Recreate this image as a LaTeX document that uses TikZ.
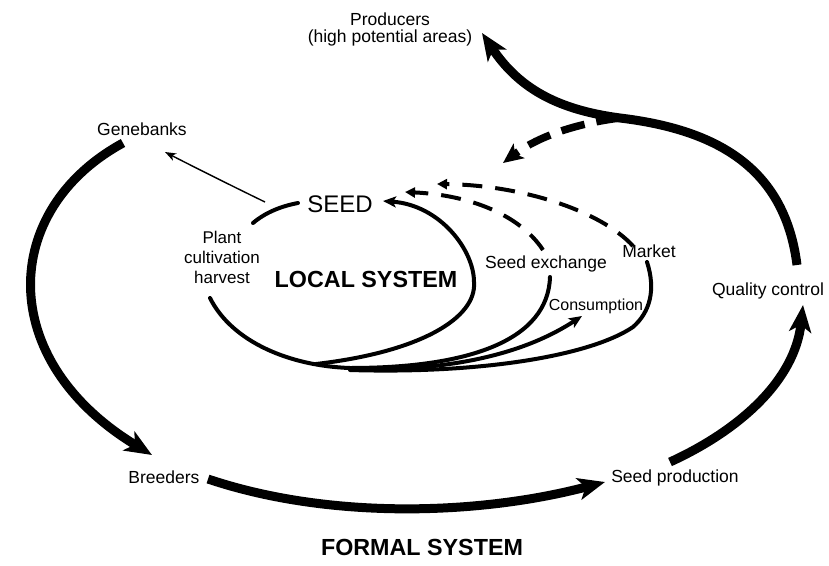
\documentclass[tikz,border=0pt]{standalone}
\usepackage{fontspec}
\setmainfont{Liberation Sans}
\usetikzlibrary{arrows.meta}

\tikzset{
  lbl/.style={anchor=base, inner sep=0pt, align=center, font=\fontsize{17.5}{17}\selectfont},
  smalllbl/.style={lbl, font=\fontsize{16}{20}\selectfont},
  plantlbl/.style={lbl, font=\fontsize{17}{20}\selectfont},
  seedlbl/.style={lbl, font=\fontsize{24}{24}\selectfont},
  syslbl/.style={lbl, font=\bfseries\fontsize{23.3}{24}\selectfont},
  bigarrow/.style={line width=9pt, -{Stealth[length=27pt,width=22pt,inset=7pt]}},
  bigdash/.style={line width=7.5pt, dash pattern=on 24pt off 12pt, -{Stealth[length=20pt,width=18pt,inset=5pt]}},
  loopline/.style={line width=4pt, line cap=round},
  looparrow/.style={loopline, -{Stealth[length=13pt,width=11pt,inset=3pt]}},
  loopdash/.style={line width=4pt, dash pattern=on 20pt off 13pt, -{Triangle[length=10pt,width=10pt]}},
  thinarrow/.style={line width=1.4pt, -{Stealth[length=11pt,width=8pt,inset=3pt]}}
}

\begin{document}
\begin{tikzpicture}[x=1pt, y=-1pt]
    \useasboundingbox (0,0) rectangle (829,565);

    %% Labels
    \node[lbl, anchor=north] (producers) at (390,13) {Producers\\(high potential areas)};
    \node[lbl] (genebanks) at (142,135) {Genebanks};
    \node[lbl] (breeders) at (164,483) {Breeders};
    \node[lbl] (seedprod) at (675,482) {Seed production};
    \node[lbl] (quality) at (768,295) {Quality control};
    \node[syslbl] (formal) at (422,555) {FORMAL SYSTEM};

    \node[seedlbl] (seed) at (340,212) {SEED};
    \node[plantlbl, anchor=north] (plant) at (222,231) {Plant\\cultivation\\harvest};
    \node[syslbl] (local) at (366,287) {LOCAL SYSTEM};
    \node[lbl] (exchange) at (546,268) {Seed exchange};
    \node[lbl] (market) at (649,257) {Market};
    \node[smalllbl] (consumption) at (596,310) {Consumption};

    %% Curve ends
    \coordinate (gb-out) at (123,143);
    \coordinate (br-in) at (152,455);
    \coordinate (br-out) at (208,479);
    \coordinate (sp-in) at (605,482);
    \coordinate (sp-out) at (670,462);
    \coordinate (qc-in) at (803,305);
    \coordinate (qc-out) at (797,265);
    \coordinate (fork) at (620,118);
    \coordinate (pr-in) at (482,33);
    \coordinate (back-in) at (503,163);
    \coordinate (seed-out) at (265,202);
    \coordinate (gb-in) at (165,152);
    \coordinate (harvest-out) at (210,298);
    \coordinate (bottom) at (350,368);
    \coordinate (merge) at (316,364);
    \coordinate (seed-in) at (383,201);
    \coordinate (ex-top) at (550,277);
    \coordinate (ex-up) at (543,250);
    \coordinate (mk-top) at (647,262);
    \coordinate (mk-up) at (633,246);
    \coordinate (cons-in) at (582,316);

    %% Formal system
    % Genebanks to breeders
    \draw[bigarrow] (gb-out) .. controls (0,210) and (-5,360) .. (br-in);
    % Breeders to seed production
    \draw[bigarrow] (br-out) .. controls (330,520) and (480,515) .. (sp-in);
    % Seed production to quality control
    \draw[bigarrow] (sp-out) .. controls (740,430) and (795,380) .. (qc-in);
    % Quality control to producers
    \draw[bigarrow] (qc-out) .. controls (785,170) and (720,130) .. (fork)
                            .. controls (560,110) and (520,90) .. (pr-in);
    % Back to the local system
    \draw[bigdash] (fork) .. controls (580,123) and (540,135) .. (back-in);

    %% Local system
    % Seed to genebanks
    \draw[thinarrow] (seed-out) .. controls (230,185) and (190,165) .. (gb-in);
    % Main loop
    \draw[loopline] (253,223) .. controls (266,212) and (282,206) .. (298,203);
    \draw[loopline] (harvest-out) .. controls (232,342) and (290,366) .. (bottom);
    \draw[looparrow] (merge) .. controls (420,352) and (477,318) .. (474,282)
                             .. controls (474,250) and (440,205) .. (seed-in);
    % Seed exchange
    \draw[loopline] (bottom) .. controls (470,368) and (548,340) .. (ex-top);
    \draw[loopdash] (ex-up) .. controls (520,215) and (470,195) .. (405,192);
    % Consumption
    \draw[looparrow] ([yshift=-1pt]bottom) .. controls (460,372) and (530,350) .. (cons-in);
    % Market
    \draw[loopline] ([yshift=-2pt]bottom) .. controls (480,374) and (590,356) .. (633,327)
                                          .. controls (650,312) and (656,290) .. (mk-top);
    \draw[loopdash] (mk-up) .. controls (600,210) and (520,185) .. (437,184);

\end{tikzpicture}
\end{document}
